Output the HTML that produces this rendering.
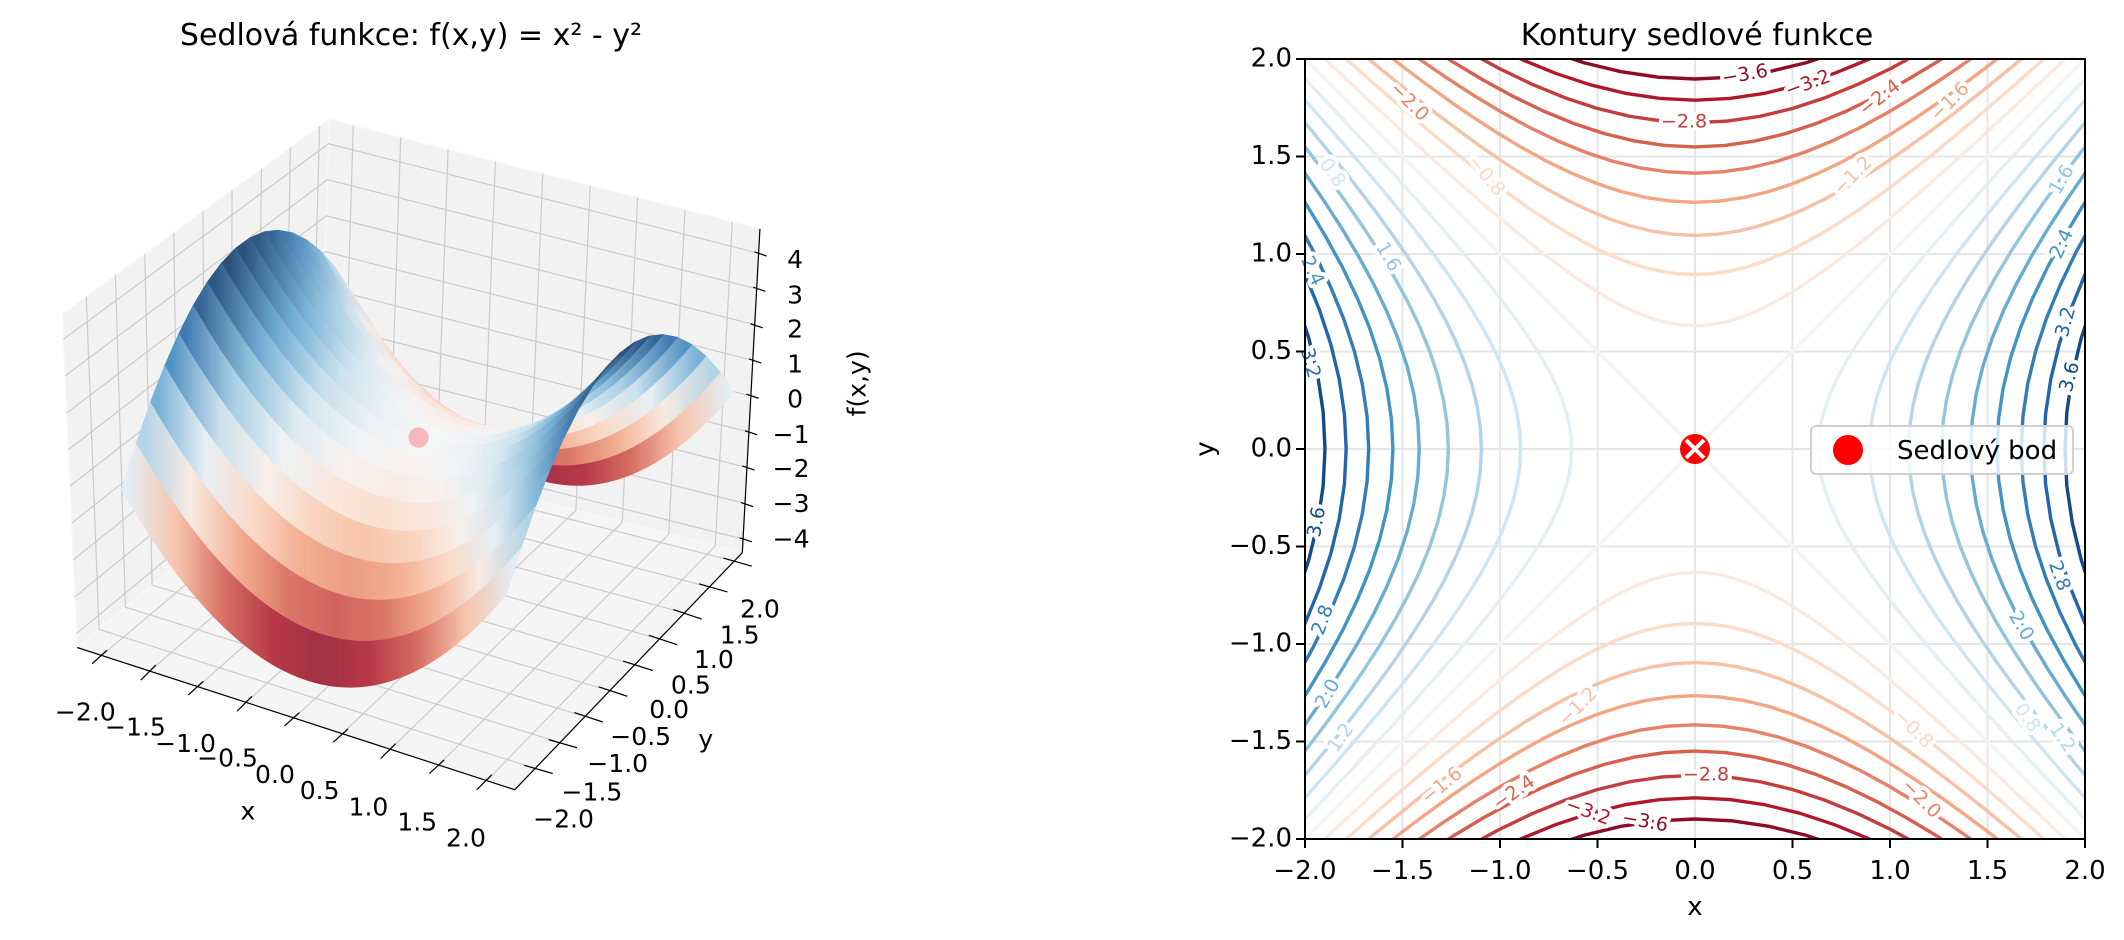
<!DOCTYPE html>
<html><head><meta charset="utf-8"><style>
html,body{margin:0;padding:0;background:#fff;width:2124px;height:940px;overflow:hidden;}
svg{display:block;font-family:"DejaVu Sans","Liberation Sans",sans-serif;}
</style></head><body>
<svg width="2124" height="940" viewBox="0 0 2124 940" xmlns="http://www.w3.org/2000/svg" xmlns:xlink="http://www.w3.org/1999/xlink">
<defs>
<clipPath id="cp"><rect x="1305" y="59" width="780" height="780"/></clipPath>
<path id="h" fill="none" vector-effect="non-scaling-stroke" stroke-linejoin="round" d="M-3.5,3.6401 L-3.25,3.4004 L-3,3.1623 L-2.8,2.9732 L-2.6,2.7857 L-2.4,2.6 L-2.2,2.4166 L-2,2.2361 L-1.8,2.0591 L-1.65,1.9306 L-1.5,1.8028 L-1.35,1.68 L-1.2,1.562 L-1.1,1.4866 L-1,1.4142 L-0.9,1.3454 L-0.8,1.2806 L-0.7,1.2207 L-0.6,1.1662 L-0.5,1.118 L-0.4,1.077 L-0.3,1.044 L-0.2,1.0198 L-0.1,1.005 L0,1 L0.1,1.005 L0.2,1.0198 L0.3,1.044 L0.4,1.077 L0.5,1.118 L0.6,1.1662 L0.7,1.2207 L0.8,1.2806 L0.9,1.3454 L1,1.4142 L1.1,1.4866 L1.2,1.562 L1.35,1.68 L1.5,1.8028 L1.65,1.9306 L1.8,2.0591 L2,2.2361 L2.2,2.4166 L2.4,2.6 L2.6,2.7857 L2.8,2.9732 L3,3.1623 L3.25,3.4004 L3.5,3.6401"/>
<linearGradient id="gA"><stop offset="0" stop-color="rgb(42,79,121)"/><stop offset=".125" stop-color="rgb(108,171,210)"/><stop offset=".25" stop-color="rgb(202,225,237)"/><stop offset=".375" stop-color="rgb(237,242,245)"/><stop offset=".5" stop-color="rgb(247,247,247)"/><stop offset=".625" stop-color="rgb(237,242,245)"/><stop offset=".75" stop-color="rgb(202,225,237)"/><stop offset=".875" stop-color="rgb(108,171,210)"/><stop offset="1" stop-color="rgb(42,79,121)"/></linearGradient>
<linearGradient id="gB"><stop offset="0" stop-color="rgb(45,86,131)"/><stop offset=".125" stop-color="rgb(118,176,214)"/><stop offset=".25" stop-color="rgb(211,230,240)"/><stop offset=".375" stop-color="rgb(242,245,246)"/><stop offset=".5" stop-color="rgb(248,242,240)"/><stop offset=".625" stop-color="rgb(242,245,246)"/><stop offset=".75" stop-color="rgb(211,230,240)"/><stop offset=".875" stop-color="rgb(118,176,214)"/><stop offset="1" stop-color="rgb(45,86,131)"/></linearGradient>
<linearGradient id="gC"><stop offset="0" stop-color="rgb(53,100,150)"/><stop offset=".125" stop-color="rgb(139,191,219)"/><stop offset=".25" stop-color="rgb(222,235,242)"/><stop offset=".375" stop-color="rgb(248,242,240)"/><stop offset=".5" stop-color="rgb(249,235,227)"/><stop offset=".625" stop-color="rgb(248,242,240)"/><stop offset=".75" stop-color="rgb(222,235,242)"/><stop offset=".875" stop-color="rgb(139,191,219)"/><stop offset="1" stop-color="rgb(53,100,150)"/></linearGradient>
<linearGradient id="gD"><stop offset="0" stop-color="rgb(64,122,180)"/><stop offset=".125" stop-color="rgb(168,208,228)"/><stop offset=".25" stop-color="rgb(237,242,245)"/><stop offset=".375" stop-color="rgb(250,231,220)"/><stop offset=".5" stop-color="rgb(252,224,208)"/><stop offset=".625" stop-color="rgb(250,231,220)"/><stop offset=".75" stop-color="rgb(237,242,245)"/><stop offset=".875" stop-color="rgb(168,208,228)"/><stop offset="1" stop-color="rgb(64,122,180)"/></linearGradient>
<linearGradient id="gE"><stop offset="0" stop-color="rgb(82,146,194)"/><stop offset=".125" stop-color="rgb(202,225,237)"/><stop offset=".25" stop-color="rgb(248,239,235)"/><stop offset=".375" stop-color="rgb(250,211,190)"/><stop offset=".5" stop-color="rgb(247,196,172)"/><stop offset=".625" stop-color="rgb(250,211,190)"/><stop offset=".75" stop-color="rgb(248,239,235)"/><stop offset=".875" stop-color="rgb(202,225,237)"/><stop offset="1" stop-color="rgb(82,146,194)"/></linearGradient>
<linearGradient id="gF"><stop offset="0" stop-color="rgb(118,176,214)"/><stop offset=".125" stop-color="rgb(232,240,244)"/><stop offset=".25" stop-color="rgb(251,218,200)"/><stop offset=".375" stop-color="rgb(243,174,145)"/><stop offset=".5" stop-color="rgb(235,156,131)"/><stop offset=".625" stop-color="rgb(243,174,145)"/><stop offset=".75" stop-color="rgb(251,218,200)"/><stop offset=".875" stop-color="rgb(232,240,244)"/><stop offset="1" stop-color="rgb(118,176,214)"/></linearGradient>
<linearGradient id="gG"><stop offset="0" stop-color="rgb(177,212,230)"/><stop offset=".125" stop-color="rgb(249,235,227)"/><stop offset=".25" stop-color="rgb(243,174,145)"/><stop offset=".375" stop-color="rgb(219,119,103)"/><stop offset=".5" stop-color="rgb(209,100,94)"/><stop offset=".625" stop-color="rgb(219,119,103)"/><stop offset=".75" stop-color="rgb(243,174,145)"/><stop offset=".875" stop-color="rgb(249,235,227)"/><stop offset="1" stop-color="rgb(177,212,230)"/></linearGradient>
<linearGradient id="gH"><stop offset="0" stop-color="rgb(227,237,243)"/><stop offset=".125" stop-color="rgb(247,196,172)"/><stop offset=".25" stop-color="rgb(214,110,98)"/><stop offset=".375" stop-color="rgb(183,56,72)"/><stop offset=".5" stop-color="rgb(163,49,69)"/><stop offset=".625" stop-color="rgb(183,56,72)"/><stop offset=".75" stop-color="rgb(214,110,98)"/><stop offset=".875" stop-color="rgb(247,196,172)"/><stop offset="1" stop-color="rgb(227,237,243)"/></linearGradient>
<linearGradient id="s0" href="#gH" xlink:href="#gH" gradientUnits="userSpaceOnUse" x1="95.25" y1="0" x2="379.25" y2="0"/>
<linearGradient id="s1" href="#gG" xlink:href="#gG" gradientUnits="userSpaceOnUse" x1="105.75" y1="0" x2="389.75" y2="0"/>
<linearGradient id="s2" href="#gF" xlink:href="#gF" gradientUnits="userSpaceOnUse" x1="116.25" y1="0" x2="400.25" y2="0"/>
<linearGradient id="s3" href="#gE" xlink:href="#gE" gradientUnits="userSpaceOnUse" x1="126.75" y1="0" x2="410.75" y2="0"/>
<linearGradient id="s4" href="#gD" xlink:href="#gD" gradientUnits="userSpaceOnUse" x1="137.25" y1="0" x2="421.25" y2="0"/>
<linearGradient id="s5" href="#gC" xlink:href="#gC" gradientUnits="userSpaceOnUse" x1="147.75" y1="0" x2="431.75" y2="0"/>
<linearGradient id="s6" href="#gB" xlink:href="#gB" gradientUnits="userSpaceOnUse" x1="158.25" y1="0" x2="442.25" y2="0"/>
<linearGradient id="s7" href="#gA" xlink:href="#gA" gradientUnits="userSpaceOnUse" x1="168.75" y1="0" x2="452.75" y2="0"/>
<linearGradient id="s8" href="#gA" xlink:href="#gA" gradientUnits="userSpaceOnUse" x1="179.25" y1="0" x2="463.25" y2="0"/>
<linearGradient id="s9" href="#gB" xlink:href="#gB" gradientUnits="userSpaceOnUse" x1="189.75" y1="0" x2="473.75" y2="0"/>
<linearGradient id="s10" href="#gC" xlink:href="#gC" gradientUnits="userSpaceOnUse" x1="200.25" y1="0" x2="484.25" y2="0"/>
<linearGradient id="s11" href="#gD" xlink:href="#gD" gradientUnits="userSpaceOnUse" x1="210.75" y1="0" x2="494.75" y2="0"/>
<linearGradient id="s12" href="#gE" xlink:href="#gE" gradientUnits="userSpaceOnUse" x1="221.25" y1="0" x2="505.25" y2="0"/>
<linearGradient id="s13" href="#gF" xlink:href="#gF" gradientUnits="userSpaceOnUse" x1="231.75" y1="0" x2="515.75" y2="0"/>
<linearGradient id="s14" href="#gG" xlink:href="#gG" gradientUnits="userSpaceOnUse" x1="242.25" y1="0" x2="526.25" y2="0"/>
<linearGradient id="s15" href="#gH" xlink:href="#gH" gradientUnits="userSpaceOnUse" x1="252.75" y1="0" x2="536.75" y2="0"/>
</defs>
<rect width="2124" height="940" fill="#fff"/>
<text x="411" y="45" font-size="30" text-anchor="middle">Sedlová funkce: f(x,y) = x² - y²</text>
<!-- LEFT 3D -->
<g transform="scale(1.3546)">
 <polygon points="57,478 236,329 243,88 46,232" fill="#f2f2f2" stroke="#f8f8f8"/>
 <polygon points="236,329 548,408 561,169 243,88" fill="#f2f2f2" stroke="#f8f8f8"/>
 <polygon points="57,478 380,583 548,408 236,329" fill="#f5f5f5" stroke="#f8f8f8"/>
 <g stroke="#cbcbcb" stroke-width="0.9">
  <line x1="73.1" y1="464.6" x2="63.7" y2="219"/><line x1="92.6" y1="448.3" x2="85.2" y2="203.3"/><line x1="112.3" y1="432" x2="106.9" y2="187.5"/><line x1="131.8" y1="415.7" x2="128.3" y2="171.8"/><line x1="151.3" y1="399.5" x2="149.8" y2="156.1"/><line x1="170.8" y1="383.2" x2="171.3" y2="140.4"/><line x1="190.5" y1="366.8" x2="193" y2="124.6"/><line x1="210" y1="350.6" x2="214.4" y2="108.9"/><line x1="229.6" y1="334.4" x2="235.9" y2="93.2"/>
  <polyline fill="none" points="56.5,467.7 236.3,318.9 548.5,398"/><polyline fill="none" points="55.3,440.6 237.1,292.4 550,371.7"/><polyline fill="none" points="54.1,413.3 237.8,265.6 551.4,345.1"/><polyline fill="none" points="52.9,386.2 238.6,239.1 552.8,318.9"/><polyline fill="none" points="51.7,358.9 239.4,212.4 554.3,292.3"/><polyline fill="none" points="50.5,331.9 240.2,185.8 555.7,266"/><polyline fill="none" points="49.3,304.8 240.9,159.3 557.2,239.7"/><polyline fill="none" points="48,277.5 241.7,132.6 558.6,213.2"/><polyline fill="none" points="46.8,250.5 242.5,106.1 560,186.9"/>
  <polyline fill="none" points="75.1,483.9 253.5,333.4 260.8,92.5"/><polyline fill="none" points="110.6,495.4 287.8,342.1 295.8,101.4"/><polyline fill="none" points="146.1,507 322.1,350.8 330.8,110.4"/><polyline fill="none" points="181.7,518.5 356.4,359.5 365.7,119.3"/><polyline fill="none" points="217.2,530.1 390.8,368.2 400.7,128.2"/><polyline fill="none" points="252.7,541.6 425.1,376.9 435.7,137.1"/><polyline fill="none" points="288.3,553.2 459.4,385.6 470.7,146"/><polyline fill="none" points="323.8,564.7 493.7,394.3 505.7,154.9"/><polyline fill="none" points="359.3,576.3 528,403 540.6,163.8"/>
  <line x1="73.1" y1="464.6" x2="395.1" y2="567.3"/><line x1="92.6" y1="448.3" x2="413.4" y2="548.2"/><line x1="112.3" y1="432" x2="431.9" y2="529"/><line x1="131.8" y1="415.7" x2="450.2" y2="509.9"/><line x1="151.3" y1="399.5" x2="468.5" y2="490.8"/><line x1="170.8" y1="383.2" x2="486.8" y2="471.7"/><line x1="190.5" y1="366.8" x2="505.3" y2="452.5"/><line x1="210" y1="350.6" x2="523.6" y2="433.4"/><line x1="229.6" y1="334.4" x2="542" y2="414.3"/>
 </g>
 <g stroke-width="0.8" stroke-linejoin="round">
  <path fill="url(#s15)" stroke="url(#s15)" d="M247.5,197.53 Q389.5,443.23 531.5,274.53 L542,289.5 Q400,458.2 258,212.5 Z"/>
  <path fill="url(#s14)" stroke="url(#s14)" d="M237,185.8 Q379,431.5 521,262.8 L531.5,274.53 Q389.5,443.23 247.5,197.53 Z"/>
  <path fill="url(#s13)" stroke="url(#s13)" d="M226.5,177.31 Q368.5,423.01 510.5,254.31 L521,262.8 Q379,431.5 237,185.8 Z"/>
  <path fill="url(#s12)" stroke="url(#s12)" d="M216,172.05 Q358,417.75 500,249.05 L510.5,254.31 Q368.5,423.01 226.5,177.31 Z"/>
  <path fill="url(#s11)" stroke="url(#s11)" d="M205.5,170.03 Q347.5,415.73 489.5,247.03 L500,249.05 Q358,417.75 216,172.05 Z"/>
  <path fill="url(#s10)" stroke="url(#s10)" d="M195,171.25 Q337,416.95 479,248.25 L489.5,247.03 Q347.5,415.73 205.5,170.03 Z"/>
  <path fill="url(#s9)" stroke="url(#s9)" d="M184.5,175.71 Q326.5,421.41 468.5,252.71 L479,248.25 Q337,416.95 195,171.25 Z"/>
  <path fill="url(#s8)" stroke="url(#s8)" d="M174,183.4 Q316,429.1 458,260.4 L468.5,252.71 Q326.5,421.41 184.5,175.71 Z"/>
  <path fill="url(#s7)" stroke="url(#s7)" d="M163.5,194.33 Q305.5,440.03 447.5,271.33 L458,260.4 Q316,429.1 174,183.4 Z"/>
  <path fill="url(#s6)" stroke="url(#s6)" d="M153,208.5 Q295,454.2 437,285.5 L447.5,271.33 Q305.5,440.03 163.5,194.33 Z"/>
  <path fill="url(#s5)" stroke="url(#s5)" d="M142.5,225.91 Q284.5,471.61 426.5,302.91 L437,285.5 Q295,454.2 153,208.5 Z"/>
  <path fill="url(#s4)" stroke="url(#s4)" d="M132,246.55 Q274,492.25 416,323.55 L426.5,302.91 Q284.5,471.61 142.5,225.91 Z"/>
  <path fill="url(#s3)" stroke="url(#s3)" d="M121.5,270.43 Q263.5,516.13 405.5,347.43 L416,323.55 Q274,492.25 132,246.55 Z"/>
  <path fill="url(#s2)" stroke="url(#s2)" d="M111,297.55 Q253,543.25 395,374.55 L405.5,347.43 Q263.5,516.13 121.5,270.43 Z"/>
  <path fill="url(#s1)" stroke="url(#s1)" d="M100.5,327.91 Q242.5,573.61 384.5,404.91 L395,374.55 Q253,543.25 111,297.55 Z"/>
  <path fill="url(#s0)" stroke="url(#s0)" d="M90,361.5 Q232,607.2 374,438.5 L384.5,404.91 Q242.5,573.61 100.5,327.91 Z"/>
 </g>
 <circle cx="309" cy="323" r="7.5" fill="#ff0000" fill-opacity="0.25"/>
 <g stroke="#000" stroke-width="0.9" fill="none">
  <line x1="57" y1="478" x2="380" y2="583"/><line x1="380" y1="583" x2="548" y2="408"/><line x1="548" y1="408" x2="561" y2="169"/>
  <line x1="79" y1="480" x2="68" y2="490"/><line x1="115" y1="491" x2="104" y2="502"/><line x1="150" y1="503" x2="139" y2="513"/><line x1="186" y1="514" x2="175" y2="525"/><line x1="221" y1="526" x2="210" y2="536"/><line x1="257" y1="538" x2="246" y2="548"/><line x1="292" y1="549" x2="281" y2="560"/><line x1="328" y1="561" x2="317" y2="571"/><line x1="363" y1="572" x2="352" y2="583"/>
  <line x1="387" y1="565" x2="408" y2="571"/><line x1="405" y1="546" x2="426" y2="552"/><line x1="424" y1="526" x2="445" y2="533"/><line x1="442" y1="507" x2="463" y2="514"/><line x1="460" y1="488" x2="482" y2="495"/><line x1="479" y1="469" x2="500" y2="476"/><line x1="497" y1="450" x2="518" y2="457"/><line x1="516" y1="431" x2="537" y2="437"/><line x1="534" y1="412" x2="555" y2="418"/>
  <line x1="546" y1="397" x2="555" y2="400"/><line x1="547" y1="371" x2="556" y2="374"/><line x1="548" y1="344" x2="557" y2="347"/><line x1="550" y1="318" x2="559" y2="321"/><line x1="551" y1="291" x2="560" y2="294"/><line x1="553" y1="265" x2="562" y2="268"/><line x1="554" y1="239" x2="563" y2="242"/><line x1="556" y1="212" x2="565" y2="215"/><line x1="557" y1="186" x2="566" y2="189"/>
 </g>
 <g font-size="18.5" fill="#000" text-anchor="middle">
  <text x="63" y="532">−2.0</text><text x="100" y="543">−1.5</text><text x="137" y="555">−1.0</text>
  <text x="168" y="566">−0.5</text><text x="203" y="578">0.0</text><text x="236" y="590">0.5</text>
  <text x="272" y="602">1.0</text><text x="308" y="613">1.5</text><text x="344" y="625">2.0</text>
  <text x="183" y="605">x</text>
  <text x="416" y="611">−2.0</text><text x="437" y="591">−1.5</text><text x="456" y="570">−1.0</text>
  <text x="473" y="550">−0.5</text><text x="494" y="530">0.0</text><text x="510" y="512">0.5</text>
  <text x="527" y="493">1.0</text><text x="546" y="475">1.5</text><text x="561" y="456">2.0</text>
  <text x="521" y="552">y</text>
  <text x="587" y="198">4</text><text x="587" y="224">3</text><text x="587" y="249">2</text>
  <text x="587" y="275">1</text><text x="587" y="301">0</text><text x="584" y="327">−1</text>
  <text x="584" y="352">−2</text><text x="584" y="378">−3</text><text x="584" y="404">−4</text>
  <text transform="translate(639 283) rotate(-90)">f(x,y)</text>
 </g>
</g>
<!-- RIGHT contour -->
<g stroke="#e6e6e6" stroke-width="2">
 <line x1="1402.5" y1="59" x2="1402.5" y2="839"/><line x1="1500" y1="59" x2="1500" y2="839"/><line x1="1597.5" y1="59" x2="1597.5" y2="839"/><line x1="1695" y1="59" x2="1695" y2="839"/><line x1="1792.5" y1="59" x2="1792.5" y2="839"/><line x1="1890" y1="59" x2="1890" y2="839"/><line x1="1987.5" y1="59" x2="1987.5" y2="839"/>
 <line x1="1305" y1="156.5" x2="2085" y2="156.5"/><line x1="1305" y1="254" x2="2085" y2="254"/><line x1="1305" y1="351.5" x2="2085" y2="351.5"/><line x1="1305" y1="449" x2="2085" y2="449"/><line x1="1305" y1="546.5" x2="2085" y2="546.5"/><line x1="1305" y1="644" x2="2085" y2="644"/><line x1="1305" y1="741.5" x2="2085" y2="741.5"/>
</g>
<g clip-path="url(#cp)">
 <path d="M1305,839 L2085,59 M1305,59 L2085,839" stroke="#f4f4f4" stroke-width="3.4" fill="none"/>
 <g transform="translate(1695 449) scale(195 -195)" stroke-width="3.4" fill="none">
  <use xlink:href="#h" href="#h" stroke="rgb(250,233,223)" transform="scale(0.6325)"/><use xlink:href="#h" href="#h" stroke="rgb(250,233,223)" transform="scale(0.6325,-0.6325)"/>
  <use xlink:href="#h" href="#h" stroke="rgb(253,219,199)" transform="scale(0.8944)"/><use xlink:href="#h" href="#h" stroke="rgb(253,219,199)" transform="scale(0.8944,-0.8944)"/>
  <use xlink:href="#h" href="#h" stroke="rgb(248,192,164)" transform="scale(1.0954)"/><use xlink:href="#h" href="#h" stroke="rgb(248,192,164)" transform="scale(1.0954,-1.0954)"/>
  <use xlink:href="#h" href="#h" stroke="rgb(244,165,130)" transform="scale(1.2649)"/><use xlink:href="#h" href="#h" stroke="rgb(244,165,130)" transform="scale(1.2649,-1.2649)"/>
  <use xlink:href="#h" href="#h" stroke="rgb(229,130,103)" transform="scale(1.4142)"/><use xlink:href="#h" href="#h" stroke="rgb(229,130,103)" transform="scale(1.4142,-1.4142)"/>
  <use xlink:href="#h" href="#h" stroke="rgb(214,96,77)" transform="scale(1.5492)"/><use xlink:href="#h" href="#h" stroke="rgb(214,96,77)" transform="scale(1.5492,-1.5492)"/>
  <use xlink:href="#h" href="#h" stroke="rgb(196,60,60)" transform="scale(1.6733)"/><use xlink:href="#h" href="#h" stroke="rgb(196,60,60)" transform="scale(1.6733,-1.6733)"/>
  <use xlink:href="#h" href="#h" stroke="rgb(178,24,43)" transform="scale(1.7889)"/><use xlink:href="#h" href="#h" stroke="rgb(178,24,43)" transform="scale(1.7889,-1.7889)"/>
  <use xlink:href="#h" href="#h" stroke="rgb(140,12,37)" transform="scale(1.8974)"/><use xlink:href="#h" href="#h" stroke="rgb(140,12,37)" transform="scale(1.8974,-1.8974)"/>
  <use xlink:href="#h" href="#h" stroke="rgb(228,238,243)" transform="matrix(0,0.6325,0.6325,0,0,0)"/><use xlink:href="#h" href="#h" stroke="rgb(228,238,243)" transform="matrix(0,0.6325,-0.6325,0,0,0)"/>
  <use xlink:href="#h" href="#h" stroke="rgb(209,229,240)" transform="matrix(0,0.8944,0.8944,0,0,0)"/><use xlink:href="#h" href="#h" stroke="rgb(209,229,240)" transform="matrix(0,0.8944,-0.8944,0,0,0)"/>
  <use xlink:href="#h" href="#h" stroke="rgb(177,213,231)" transform="matrix(0,1.0954,1.0954,0,0,0)"/><use xlink:href="#h" href="#h" stroke="rgb(177,213,231)" transform="matrix(0,1.0954,-1.0954,0,0,0)"/>
  <use xlink:href="#h" href="#h" stroke="rgb(146,197,222)" transform="matrix(0,1.2649,1.2649,0,0,0)"/><use xlink:href="#h" href="#h" stroke="rgb(146,197,222)" transform="matrix(0,1.2649,-1.2649,0,0,0)"/>
  <use xlink:href="#h" href="#h" stroke="rgb(106,172,208)" transform="matrix(0,1.4142,1.4142,0,0,0)"/><use xlink:href="#h" href="#h" stroke="rgb(106,172,208)" transform="matrix(0,1.4142,-1.4142,0,0,0)"/>
  <use xlink:href="#h" href="#h" stroke="rgb(67,147,195)" transform="matrix(0,1.5492,1.5492,0,0,0)"/><use xlink:href="#h" href="#h" stroke="rgb(67,147,195)" transform="matrix(0,1.5492,-1.5492,0,0,0)"/>
  <use xlink:href="#h" href="#h" stroke="rgb(50,124,183)" transform="matrix(0,1.6733,1.6733,0,0,0)"/><use xlink:href="#h" href="#h" stroke="rgb(50,124,183)" transform="matrix(0,1.6733,-1.6733,0,0,0)"/>
  <use xlink:href="#h" href="#h" stroke="rgb(33,102,172)" transform="matrix(0,1.7889,1.7889,0,0,0)"/><use xlink:href="#h" href="#h" stroke="rgb(33,102,172)" transform="matrix(0,1.7889,-1.7889,0,0,0)"/>
  <use xlink:href="#h" href="#h" stroke="rgb(19,75,134)" transform="matrix(0,1.8974,1.8974,0,0,0)"/><use xlink:href="#h" href="#h" stroke="rgb(19,75,134)" transform="matrix(0,1.8974,-1.8974,0,0,0)"/>
 </g>
</g>
<g font-size="19" text-anchor="middle" dominant-baseline="middle">
 <g stroke="#fff" stroke-width="8" fill="#fff" stroke-linejoin="round">
 <text x="1745" y="75" transform="rotate(-10 1745 75)">−3.6</text><text x="1808" y="84" transform="rotate(-20 1808 84)">−3.2</text><text x="1684" y="122">−2.8</text><text x="1880" y="98" transform="rotate(-38 1880 98)">−2.4</text><text x="1409" y="102" transform="rotate(45 1409 102)">−2.0</text><text x="1950" y="102" transform="rotate(-45 1950 102)">−1.6</text><text x="1853" y="176" transform="rotate(-45 1853 176)">−1.2</text><text x="1486" y="176" transform="rotate(50 1486 176)">−0.8</text>
 <text x="1645" y="822" transform="rotate(10 1645 822)">−3.6</text><text x="1588" y="812" transform="rotate(20 1588 812)">−3.2</text><text x="1706" y="775">−2.8</text><text x="1514" y="793" transform="rotate(-35 1514 793)">−2.4</text><text x="1442" y="786" transform="rotate(-40 1442 786)">−1.6</text><text x="1578" y="707" transform="rotate(-45 1578 707)">−1.2</text><text x="1921" y="799" transform="rotate(45 1921 799)">−2.0</text><text x="1913" y="729" transform="rotate(45 1913 729)">−0.8</text>
 <text x="1317" y="522" transform="rotate(-80 1317 522)">3.6</text><text x="1310" y="363" transform="rotate(75 1310 363)">3.2</text><text x="1323" y="620" transform="rotate(-70 1323 620)">2.8</text><text x="1312" y="271" transform="rotate(65 1312 271)">2.4</text><text x="1328" y="694" transform="rotate(-60 1328 694)">2.0</text><text x="1388" y="257" transform="rotate(60 1388 257)">1.6</text><text x="1341" y="738" transform="rotate(-55 1341 738)">1.2</text><text x="1332" y="173" transform="rotate(55 1332 173)">0.8</text>
 <text x="2070" y="377" transform="rotate(-75 2070 377)">3.6</text><text x="2066" y="322" transform="rotate(-75 2066 322)">3.2</text><text x="2059" y="576" transform="rotate(70 2059 576)">2.8</text><text x="2062" y="244" transform="rotate(-65 2062 244)">2.4</text><text x="2021" y="626" transform="rotate(60 2021 626)">2.0</text><text x="2062" y="180" transform="rotate(-60 2062 180)">1.6</text><text x="2062" y="738" transform="rotate(55 2062 738)">1.2</text><text x="2027" y="718" transform="rotate(55 2027 718)">0.8</text>
 </g>
 <text x="1745" y="75" fill="#8c0c25" transform="rotate(-10 1745 75)">−3.6</text>
 <text x="1808" y="84" fill="#b2182b" transform="rotate(-20 1808 84)">−3.2</text>
 <text x="1684" y="122" fill="#c43c3c">−2.8</text>
 <text x="1880" y="98" fill="#d6604d" transform="rotate(-38 1880 98)">−2.4</text>
 <text x="1409" y="102" fill="#e58267" transform="rotate(45 1409 102)">−2.0</text>
 <text x="1950" y="102" fill="#f4a582" transform="rotate(-45 1950 102)">−1.6</text>
 <text x="1853" y="176" fill="#f8c0a4" transform="rotate(-45 1853 176)">−1.2</text>
 <text x="1486" y="176" fill="#fdd7c3" transform="rotate(50 1486 176)">−0.8</text>
 <text x="1645" y="822" fill="#8c0c25" transform="rotate(10 1645 822)">−3.6</text>
 <text x="1588" y="812" fill="#b2182b" transform="rotate(20 1588 812)">−3.2</text>
 <text x="1706" y="775" fill="#c43c3c">−2.8</text>
 <text x="1514" y="793" fill="#d6604d" transform="rotate(-35 1514 793)">−2.4</text>
 <text x="1442" y="786" fill="#f4a582" transform="rotate(-40 1442 786)">−1.6</text>
 <text x="1578" y="707" fill="#f8c0a4" transform="rotate(-45 1578 707)">−1.2</text>
 <text x="1921" y="799" fill="#e58267" transform="rotate(45 1921 799)">−2.0</text>
 <text x="1913" y="729" fill="#fdd7c3" transform="rotate(45 1913 729)">−0.8</text>
 <text x="1317" y="522" fill="#134b86" transform="rotate(-80 1317 522)">3.6</text>
 <text x="1310" y="363" fill="#2166ac" transform="rotate(75 1310 363)">3.2</text>
 <text x="1323" y="620" fill="#327cb7" transform="rotate(-70 1323 620)">2.8</text>
 <text x="1312" y="271" fill="#4393c3" transform="rotate(65 1312 271)">2.4</text>
 <text x="1328" y="694" fill="#6aacd0" transform="rotate(-60 1328 694)">2.0</text>
 <text x="1388" y="257" fill="#92c5de" transform="rotate(60 1388 257)">1.6</text>
 <text x="1341" y="738" fill="#b1d5e7" transform="rotate(-55 1341 738)">1.2</text>
 <text x="1332" y="173" fill="#d1e5f0" transform="rotate(55 1332 173)">0.8</text>
 <text x="2070" y="377" fill="#134b86" transform="rotate(-75 2070 377)">3.6</text>
 <text x="2066" y="322" fill="#2166ac" transform="rotate(-75 2066 322)">3.2</text>
 <text x="2059" y="576" fill="#327cb7" transform="rotate(70 2059 576)">2.8</text>
 <text x="2062" y="244" fill="#4393c3" transform="rotate(-65 2062 244)">2.4</text>
 <text x="2021" y="626" fill="#6aacd0" transform="rotate(60 2021 626)">2.0</text>
 <text x="2062" y="180" fill="#92c5de" transform="rotate(-60 2062 180)">1.6</text>
 <text x="2062" y="738" fill="#b1d5e7" transform="rotate(55 2062 738)">1.2</text>
 <text x="2027" y="718" fill="#d1e5f0" transform="rotate(55 2027 718)">0.8</text>
</g>
<rect x="1305" y="59" width="780" height="780" fill="none" stroke="#000" stroke-width="2"/>
<g stroke="#000" stroke-width="2">
 <line x1="1305" y1="839" x2="1305" y2="848"/><line x1="1402.5" y1="839" x2="1402.5" y2="848"/><line x1="1500" y1="839" x2="1500" y2="848"/><line x1="1597.5" y1="839" x2="1597.5" y2="848"/><line x1="1695" y1="839" x2="1695" y2="848"/><line x1="1792.5" y1="839" x2="1792.5" y2="848"/><line x1="1890" y1="839" x2="1890" y2="848"/><line x1="1987.5" y1="839" x2="1987.5" y2="848"/><line x1="2085" y1="839" x2="2085" y2="848"/>
 <line x1="1296" y1="59" x2="1305" y2="59"/><line x1="1296" y1="156.5" x2="1305" y2="156.5"/><line x1="1296" y1="254" x2="1305" y2="254"/><line x1="1296" y1="351.5" x2="1305" y2="351.5"/><line x1="1296" y1="449" x2="1305" y2="449"/><line x1="1296" y1="546.5" x2="1305" y2="546.5"/><line x1="1296" y1="644" x2="1305" y2="644"/><line x1="1296" y1="741.5" x2="1305" y2="741.5"/><line x1="1296" y1="839" x2="1305" y2="839"/>
</g>
<g font-size="26" fill="#000">
 <g text-anchor="middle">
  <text x="1305" y="879">−2.0</text><text x="1402.5" y="879">−1.5</text><text x="1500" y="879">−1.0</text>
  <text x="1597.5" y="879">−0.5</text><text x="1695" y="879">0.0</text><text x="1792.5" y="879">0.5</text>
  <text x="1890" y="879">1.0</text><text x="1987.5" y="879">1.5</text><text x="2085" y="879">2.0</text>
  <text x="1695" y="915">x</text>
  <text x="1697" y="45" font-size="30">Kontury sedlové funkce</text>
  <text transform="translate(1206 449) rotate(-90)" dominant-baseline="middle">y</text>
 </g>
 <g text-anchor="end" dominant-baseline="middle">
  <text x="1292" y="839">−2.0</text><text x="1292" y="741.5">−1.5</text><text x="1292" y="644">−1.0</text>
  <text x="1292" y="546.5">−0.5</text><text x="1292" y="449">0.0</text><text x="1292" y="351.5">0.5</text>
  <text x="1292" y="254">1.0</text><text x="1292" y="156.5">1.5</text><text x="1292" y="59">2.0</text>
 </g>
</g>
<circle cx="1695" cy="449" r="15" fill="#ff0000"/>
<g stroke="#fff" stroke-width="4"><line x1="1686" y1="440" x2="1704" y2="458"/><line x1="1704" y1="440" x2="1686" y2="458"/></g>
<rect x="1811" y="426" width="262" height="48" rx="5" fill="#fff" fill-opacity="0.8" stroke="#d0d0d0" stroke-width="2"/>
<circle cx="1848" cy="450" r="15" fill="#ff0000"/>
<text x="1897" y="459" font-size="26" fill="#000">Sedlový bod</text>
</svg>
</body></html>
